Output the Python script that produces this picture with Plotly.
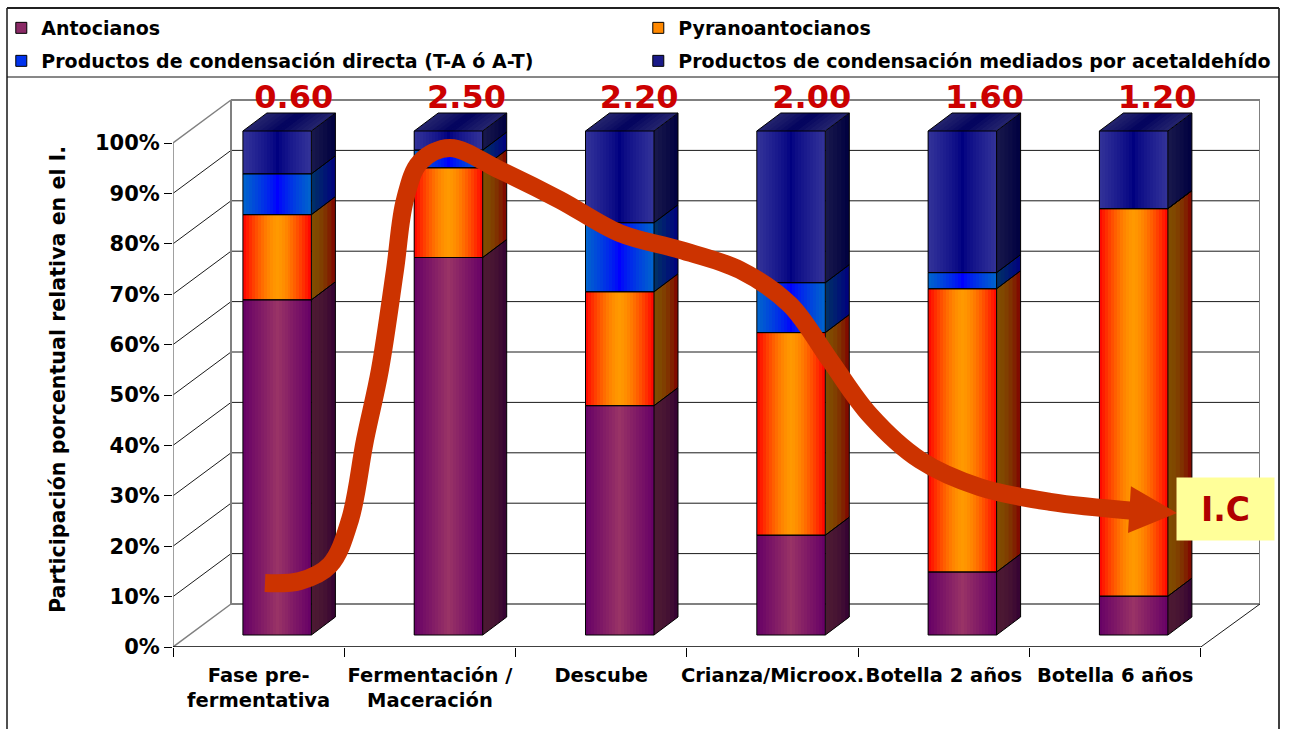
import plotly.graph_objects as go

# ---------- data ----------
categories = ["Fase pre-<br>fermentativa", "Fermentación /<br>Maceración", "Descube",
              "Crianza/Microox.", "Botella 2 años", "Botella 6 años"]
antocianos = [66.5, 74.9, 45.5, 19.8, 12.5, 7.7]
pyranoantocianos = [16.9, 17.8, 22.6, 40.2, 56.2, 76.9]
directa = [8.1, 3.5, 13.7, 9.9, 3.2, 0.0]
acetaldehido = [8.5, 3.8, 18.2, 30.1, 28.1, 15.4]
ic_values = ["0.60", "2.50", "2.20", "2.00", "1.60", "1.20"]
percent_ticks = [0, 10, 20, 30, 40, 50, 60, 70, 80, 90, 100]

# Hand-drawn I.C trend (category position, percent)
trend_x = [0.037, 0.241, 0.417, 0.533, 0.621, 0.708, 0.796, 0.854, 0.942, 1.117, 1.409,
           1.759, 2.109, 2.460, 2.810, 3.102, 3.335, 3.569, 3.861, 4.211, 4.620, 5.116]
trend_y = [12.7, 13.1, 16.3, 25.2, 41.1, 55.0, 74.8, 88.7, 96.2, 99.0, 94.6,
           88.7, 82.1, 78.8, 74.8, 67.9, 56.9, 46.0, 37.1, 31.7, 28.8, 27.0]
head_x = [5.092, 5.361, 5.075, 5.092]
head_y = [31.9, 26.6, 22.6, 31.9]

series_names = ["Antocianos", "Pyranoantocianos",
                "Productos de condensación directa (T-A ó A-T)",
                "Productos de condensación mediados por acetaldehído"]
series_values = [antocianos, pyranoantocianos, directa, acetaldehido]

# ---------- style ----------
FONT = "DejaVu Sans"
edge_col = [(0x66, 0x00, 0x66), (0xff, 0x00, 0x00), (0x00, 0x66, 0xcc), (0x33, 0x33, 0x99)]
mid_col = [(0x99, 0x33, 0x66), (0xff, 0x99, 0x00), (0x00, 0x00, 0xff), (0x00, 0x00, 0x80)]
front_gamma = [1.0, 1.5, 0.8, 0.8]
swatch_col = ["#8a2a66", "#ff8800", "#0033ee", "#1a1a88"]
side_from_edge = [False, False, True, True]

PX_X, PX_Y = 171.3, 5.04          # pixels per category / per percent
W0, W1, H0, H1 = 173, 1260, 647, 70
FIG_W, FIG_H = 1291, 729
x_min = -0.5
x_max = x_min + (W1 - W0) / PX_X
y_max = (H0 - H1) / PX_Y
WALL_DX, WALL_DY = 58 / PX_X, 43 / PX_Y
BAR_SHIFT, BAR_FLOOR = 18.5 / PX_X, 12 / PX_Y
BAR_W = 68.5 / PX_X
BAR_DX, BAR_DY = 24 / PX_X, 18 / PX_Y


def px(x):
    return x / FIG_W


def py(y):
    return 1 - y / FIG_H


def lerp(a, b, t):
    return tuple(a[i] + (b[i] - a[i]) * t for i in range(3))


def css(c, k=1.0):
    return "rgb(%d,%d,%d)" % tuple(round(v * k) for v in c)


fig = go.Figure()

# ---------- front faces: one bar trace per series, split in strips for the gradient ----------
N_STRIP = 23
n = len(categories)
cum = [BAR_FLOOR] * n
segments = []
for j, vals in enumerate(series_values):
    xs, ys, bases, cols = [], [], [], []
    for i in range(n):
        for s in range(N_STRIP):
            u = (s + 0.5) / N_STRIP
            xs.append(i + BAR_SHIFT - BAR_W / 2 + u * BAR_W)
            ys.append(vals[i])
            bases.append(cum[i])
            cols.append(css(lerp(mid_col[j], edge_col[j], abs(2 * u - 1) ** front_gamma[j])))
    fig.add_trace(go.Bar(x=xs, y=ys, base=bases, width=BAR_W / N_STRIP * 1.04,
                         marker=dict(color=cols, line=dict(width=0)),
                         name=series_names[j], showlegend=False, hoverinfo="skip"))
    segments.append([(cum[i], cum[i] + vals[i]) for i in range(n)])
    cum = [cum[i] + vals[i] for i in range(n)]

# ---------- side faces ----------
N_SIDE = 6
OVER = 0.04
for j in range(4):
    for s in range(N_SIDE):
        u0, u1 = s / N_SIDE, min(1, (s + 1) / N_SIDE + OVER)
        um = (s + 0.5) / N_SIDE
        t = 1 - um if side_from_edge[j] else um ** 2
        col = css(lerp(mid_col[j], edge_col[j], t), 0.5)
        px_, py_ = [], []
        for i in range(n):
            lo, hi = segments[j][i]
            if hi - lo <= 0:
                continue
            xr = i + BAR_SHIFT + BAR_W / 2
            px_ += [xr + u0 * BAR_DX, xr + u1 * BAR_DX, xr + u1 * BAR_DX, xr + u0 * BAR_DX, xr + u0 * BAR_DX, None]
            py_ += [lo + u0 * BAR_DY, lo + u1 * BAR_DY, hi + u1 * BAR_DY, hi + u0 * BAR_DY, lo + u0 * BAR_DY, None]
        fig.add_trace(go.Scatter(x=px_, y=py_, mode="none", fill="toself", fillcolor=col,
                                 showlegend=False, hoverinfo="skip"))

# ---------- top faces ----------
N_TOP = 12
for s in range(N_TOP):
    u0, u1 = s / N_TOP, min(1, (s + 1) / N_TOP + OVER / 2)
    col = css(lerp(mid_col[3], edge_col[3], abs(2 * (s + 0.5) / N_TOP - 1) ** 0.8), 0.72)
    tx, ty = [], []
    for i in range(n):
        top = segments[3][i][1]
        xl = i + BAR_SHIFT - BAR_W / 2
        a, b = xl + u0 * BAR_W, xl + u1 * BAR_W
        tx += [a, b, b + BAR_DX, a + BAR_DX, a, None]
        ty += [top, top, top + BAR_DY, top + BAR_DY, top, None]
    fig.add_trace(go.Scatter(x=tx, y=ty, mode="none", fill="toself", fillcolor=col,
                             showlegend=False, hoverinfo="skip"))

# ---------- outlines ----------
ox, oy = [], []
for i in range(n):
    xl = i + BAR_SHIFT - BAR_W / 2
    xr = xl + BAR_W
    for j in range(4):
        lo, hi = segments[j][i]
        ox += [xl, xr, xr, xl, xl, None, xr, xr + BAR_DX, xr + BAR_DX, xr, None]
        oy += [lo, lo, hi, hi, lo, None, lo, lo + BAR_DY, hi + BAR_DY, hi, None]
    top = segments[3][i][1]
    ox += [xl, xl + BAR_DX, xr + BAR_DX, None]
    oy += [top, top + BAR_DY, top + BAR_DY, None]
fig.add_trace(go.Scatter(x=ox, y=oy, mode="lines", line=dict(color="#000000", width=1),
                         showlegend=False, hoverinfo="skip"))

# ---------- I.C values over the bars ----------
fig.add_trace(go.Scatter(x=[i + 0.205 + 0.008 * i for i in range(n)], y=[108.5] * n, text=ic_values,
                         mode="text", textposition="middle center", cliponaxis=False,
                         textfont=dict(family=FONT, size=32, color="#cc0000", weight="bold"),
                         showlegend=False, hoverinfo="skip"))

# ---------- trend arrow ----------
fig.add_trace(go.Scatter(x=trend_x, y=trend_y, mode="lines",
                         line=dict(color="#cc3300", width=18, shape="spline", smoothing=1.0),
                         showlegend=False, hoverinfo="skip"))
fig.add_trace(go.Scatter(x=head_x, y=head_y, mode="none", fill="toself", fillcolor="#cc3300",
                         showlegend=False, hoverinfo="skip"))

# ---------- legend entries ----------
for j, name in enumerate(series_names):
    fig.add_trace(go.Scatter(x=[None], y=[None], mode="markers", name=name,
                             legend="legend" if j < 2 else "legend2",
                             marker=dict(symbol="square", size=11, color=swatch_col[j],
                                         line=dict(color="#000000", width=1))))

# ---------- 3D walls and grid (drawn under the bars) ----------
shapes = []


def seg(x0, y0, x1, y1, color, width):
    shapes.append(dict(type="line", layer="below", xref="x", yref="y", x0=x0, y0=y0, x1=x1, y1=y1,
                       line=dict(color=color, width=width)))


wall_l = x_min + WALL_DX
for v in percent_ticks:
    edge = v in (0, 100)
    color, width = ("#808080", 2) if edge else ("#1a1a1a", 1)
    seg(wall_l, v + WALL_DY, x_max, v + WALL_DY, color, width)
    seg(x_min, v, wall_l, v + WALL_DY, color, 1.5 if edge else 1)
seg(x_min, 0, x_min, 100, "#808080", 1.5)
seg(wall_l, WALL_DY, wall_l, 100 + WALL_DY, "#808080", 2)
seg(x_max, WALL_DY, x_max, 100 + WALL_DY, "#808080", 2)
seg(x_min, 0, n - 0.5, 0, "#000000", 1.5)
seg(n - 0.5, 0, x_max, WALL_DY, "#1a1a1a", 1)

# ---------- frame ----------
for (x0, y0, x1, y1, col, wd) in [(7, 8, 7, 740, "#505050", 2), (1279, 8, 1279, 740, "#404040", 2),
                                  (7, 8, 1279, 8, "#202020", 2), (7, 77, 1279, 77, "#101010", 1)]:
    shapes.append(dict(type="line", xref="paper", yref="paper", x0=px(x0), y0=py(y0), x1=px(x1), y1=py(y1),
                       line=dict(color=col, width=wd)))

legend_common = dict(orientation="h", xanchor="left", x=0.001, yanchor="middle",
                     entrywidth=592, entrywidthmode="pixels", itemwidth=30,
                     bgcolor="rgba(0,0,0,0)", font=dict(family=FONT, size=19, color="#000000", weight="bold"),
                     itemclick=False, itemdoubleclick=False)

fig.update_layout(
    width=FIG_W, height=FIG_H, margin=dict(l=0, r=0, t=0, b=0, autoexpand=False),
    paper_bgcolor="#ffffff", plot_bgcolor="#ffffff", barmode="overlay", bargap=0,
    font=dict(family=FONT, size=18, color="#000000"),
    shapes=shapes,
    legend=dict(y=py(28), **legend_common),
    legend2=dict(y=py(61), **legend_common),
    xaxis=dict(domain=[W0 / FIG_W, W1 / FIG_W], range=[x_min, x_max], tickmode="array",
               tickvals=list(range(n)), ticktext=categories, tickangle=0, ticks="", ticklabelstandoff=14,
               showgrid=False, zeroline=False, showline=False,
               tickfont=dict(family=FONT, size=19.5, color="#000000", weight="bold"),
               minor=dict(tickmode="array", tickvals=[i - 0.5 for i in range(n + 1)], ticks="outside",
                          ticklen=9, tickwidth=1, tickcolor="#000000", showgrid=False)),
    yaxis=dict(domain=[1 - H0 / FIG_H, 1 - H1 / FIG_H], range=[0, y_max], tickmode="array",
               tickvals=percent_ticks, ticktext=["%d%%" % v for v in percent_ticks],
               ticks="outside", ticklen=8, tickwidth=1, tickcolor="#000000",
               showgrid=False, zeroline=False, showline=False,
               tickfont=dict(family=FONT, size=21, color="#000000", weight="bold")),
    annotations=[
        dict(xref="paper", yref="paper", x=px(58), y=py(380), text="<b>Participación porcentual relativa en el I.</b>",
             textangle=-90, showarrow=False, font=dict(family=FONT, size=20.6, color="#000000"),
             xanchor="center", yanchor="middle"),
        dict(xref="paper", yref="paper", x=px(1225.5), y=py(509), text="<b>I.C</b>", showarrow=False,
             width=97, height=62, bgcolor="#ffff99", borderpad=0, valign="middle",
             font=dict(family=FONT, size=33, color="#b00000"), xanchor="center", yanchor="middle"),
    ],
)

fig.write_html("out.html", config=dict(displayModeBar=False),
               post_script="document.body.style.margin='0';document.body.style.overflow='hidden';")
